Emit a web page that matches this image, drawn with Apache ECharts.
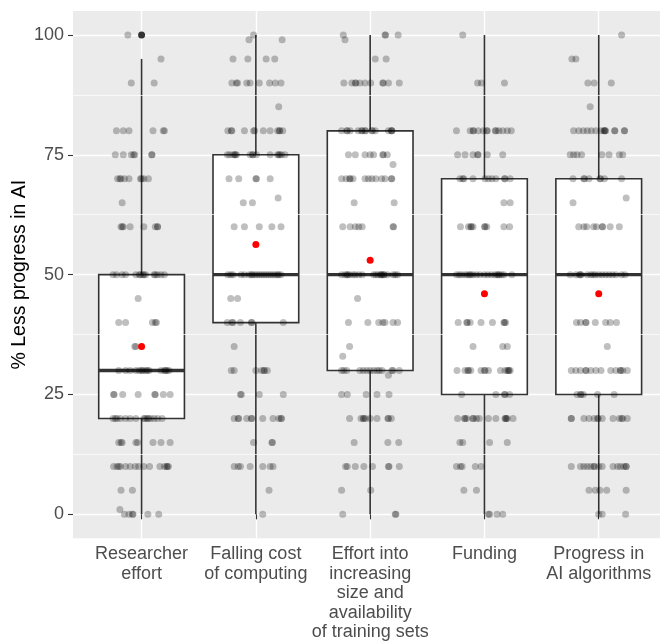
<!DOCTYPE html>
<html><head><meta charset="utf-8">
<script src="https://cdn.jsdelivr.net/npm/echarts@6/dist/echarts.min.js"></script>
<style>html,body{margin:0;padding:0;background:#fff}#c{width:660px;height:642px}</style>
</head><body><div id="c"></div><script>
const categories = ['Researcher\neffort', 'Falling cost\nof computing', 'Effort into\nincreasing\nsize and\navailability\nof training sets', 'Funding', 'Progress in\nAI algorithms'];
const whiskerLow = [0, 0, 0, 0, 0];
const boxQ1 = [20, 40, 30, 25, 25];
const boxMedian = [30, 50, 50, 50, 50];
const boxQ3 = [50, 75, 80, 70, 70];
const whiskerHigh = [95, 100, 100, 100, 100];
const meanValues = [35, 56.3, 53, 46, 46];
const outlierPoints = [[1, 100]];
const yTicks = [0, 25, 50, 75, 100];
const yMinorLines = [12.5, 37.5, 62.5, 87.5];
const yAxisTitle = '% Less progress in AI';

// jittered responses: [value, [horizontal offsets]]
const jitterResearcher = [
  [100, [-0.12]], [95, [0.17]], [90, [-0.09, 0.11]],
  [80, [-0.22, -0.16, -0.11, 0.10, 0.19, 0.20]],
  [75, [-0.23, -0.16, -0.09, -0.07, -0.06, 0.09, 0.09]],
  [70, [-0.21, -0.19, -0.18, -0.15, -0.11, -0.01, 0.0, 0.02, 0.06]],
  [65, [-0.17]],
  [60, [-0.18, -0.17, -0.16, -0.10, 0.02, 0.12, 0.14, 0.14]],
  [50, [-0.25, -0.22, -0.17, -0.14, -0.05, -0.02, -0.01, 0.01, 0.02, 0.035, 0.11, 0.12, 0.14, 0.17, 0.2]],
  [45, [-0.03]],
  [40, [-0.2, -0.14, 0.095, 0.12, 0.13]],
  [35, [-0.06, -0.05]],
  [30, [-0.2, -0.14, -0.1, -0.05, -0.02, 0.0, 0.01, 0.035, 0.05, 0.065, 0.17, 0.2, 0.21, 0.22, 0.24]],
  [25, [-0.245, -0.24, -0.165, -0.03, 0.115, 0.12, 0.19, 0.25]],
  [20, [-0.25, -0.23, -0.215, -0.185, -0.14, -0.1, -0.05, 0.02, 0.03, 0.05, 0.06, 0.08, 0.11, 0.14, 0.18]],
  [15, [-0.2, -0.18, -0.17, -0.05, -0.035, 0.1, 0.17, 0.25]],
  [10, [-0.245, -0.215, -0.2, -0.185, -0.14, -0.1, -0.055, -0.025, 0.02, 0.07, 0.16, 0.2, 0.22, 0.225, 0.235]],
  [5, [-0.18, -0.08]], [1, [-0.19]],
  [0, [-0.15, -0.11, -0.08, -0.075, 0.055, 0.15]]
];
const jitterComputing = [
  [100, [-0.02]], [99, [-0.06, 0.23]], [95, [-0.2, -0.07, 0.09, 0.165]],
  [90, [-0.21, -0.17, -0.16, -0.08, -0.05, 0.03, 0.12, 0.17, 0.22]],
  [85, [0.2]],
  [80, [-0.245, -0.215, -0.21, -0.1, -0.02, -0.01, 0.065, 0.125, 0.19, 0.205, 0.21, 0.235]],
  [75, [-0.25, -0.23, -0.2, -0.185, -0.18, -0.17, -0.05, -0.03, -0.025, 0.005, 0.125, 0.19, 0.2, 0.21, 0.225, 0.255]],
  [70, [-0.235, -0.15, 0.0, 0.005, 0.125]],
  [66, [0.195]], [65, [-0.11, -0.03]],
  [60, [-0.19, -0.1, 0.03, 0.14, 0.22]],
  [50, [-0.245, -0.22, -0.2, -0.13, -0.1, -0.06, -0.04, -0.03, -0.01, 0.01, 0.03, 0.05, 0.07, 0.09, 0.11, 0.13, 0.15, 0.17, 0.19, 0.2, 0.22]],
  [45, [-0.22, -0.16]],
  [40, [-0.25, -0.21, -0.2, -0.135, -0.04, -0.035, 0.24]],
  [35, [-0.19]],
  [30, [-0.215, -0.19, 0.0, 0.05, 0.07, 0.075, 0.1]],
  [25, [-0.135, -0.127, 0.03, 0.24]],
  [20, [-0.19, -0.155, -0.15, -0.08, -0.04, -0.035, 0.06, 0.15, 0.2, 0.22, 0.225]],
  [15, [-0.02, 0.14, 0.145]],
  [10, [-0.19, -0.155, -0.135, -0.05, 0.06, 0.125, 0.15]],
  [5, [0.115]], [0, [0.06]]
];
const jitterTrainingSets = [
  [100, [-0.235, 0.13, 0.135, 0.245]], [99, [-0.22]], [95, [0.045, 0.14]],
  [90, [-0.23, -0.16, -0.13, -0.125, -0.09, -0.045, 0.005, 0.11, 0.115, 0.16, 0.255]],
  [80, [-0.25, -0.205, -0.2, -0.175, -0.105, -0.075, -0.07, -0.045, -0.04, 0.015, 0.02, 0.045, 0.16, 0.185, 0.19, 0.19]],
  [75, [-0.19, -0.13, -0.045, 0.0, 0.03, 0.11, 0.115, 0.15]],
  [73, [0.2]],
  [70, [-0.25, -0.21, -0.18, -0.175, -0.15, -0.045, -0.015, 0.015, 0.05, 0.1, 0.13, 0.185, 0.19]],
  [65, [-0.14, 0.21]],
  [60, [-0.24, -0.175, -0.13, -0.1, -0.07, 0.2, 0.205]],
  [50, [-0.25, -0.22, -0.2, -0.2, -0.18, -0.15, -0.13, -0.1, -0.07, 0.03, 0.05, 0.07, 0.09, 0.1, 0.1, 0.12, 0.12, 0.15, 0.2, 0.22, 0.24]],
  [45, [-0.11]],
  [40, [-0.19, -0.02, 0.075, 0.11, 0.13, 0.2, 0.24]],
  [35, [-0.18]], [33, [-0.24]],
  [30, [-0.25, -0.23, -0.205, -0.09, -0.06, -0.03, 0.0, 0.03, 0.06, 0.08, 0.105, 0.19, 0.2, 0.255]],
  [29, [0.16]],
  [25, [-0.25, -0.2, -0.035, 0.06, 0.165]],
  [20, [-0.18, -0.08, -0.06, -0.055, -0.04, 0.0, 0.06, 0.155, 0.16, 0.185]],
  [15, [-0.14, 0.155, 0.25]],
  [10, [-0.215, -0.2, -0.13, -0.055, 0.02, 0.16, 0.165, 0.255]],
  [5, [-0.25, 0.005]],
  [0, [-0.24, 0.22, 0.225]]
];
const jitterFunding = [
  [100, [-0.19]], [90, [-0.06, -0.025, 0.175]],
  [80, [-0.245, -0.125, -0.1, -0.095, -0.055, -0.01, 0.02, 0.025, 0.095, 0.1, 0.125, 0.16, 0.2, 0.235]],
  [75, [-0.235, -0.17, -0.1, -0.06, -0.055, 0.025, 0.16]],
  [70, [-0.215, -0.19, -0.18, -0.1, 0.005, 0.035, 0.065, 0.1, 0.175, 0.18, 0.225]],
  [65, [0.17, 0.225]],
  [60, [-0.21, -0.14, -0.12, -0.115, -0.1, 0.0, 0.005, 0.02, 0.17, 0.22]],
  [50, [-0.245, -0.22, -0.2, -0.17, -0.15, -0.13, -0.12, -0.1, -0.07, -0.04, 0.0, 0.03, 0.06, 0.09, 0.11, 0.12, 0.13, 0.15, 0.17, 0.24]],
  [40, [-0.23, -0.155, -0.15, -0.125, -0.03, 0.07, 0.17, 0.175, 0.185]],
  [35, [-0.1, 0.16, 0.2]],
  [30, [-0.24, -0.17, -0.145, -0.14, -0.12, -0.03, 0.0, 0.005, 0.035, 0.14, 0.18, 0.2, 0.21, 0.215, 0.225]],
  [25, [-0.2, 0.1, 0.175, 0.18, 0.22]],
  [20, [-0.235, -0.175, -0.17, -0.155, -0.1, -0.1, -0.07, -0.045, 0.035, 0.1, 0.18, 0.185, 0.19, 0.2, 0.25]],
  [15, [-0.215, -0.19, 0.045, 0.2]],
  [10, [-0.245, -0.21, -0.195, -0.08, -0.03]],
  [5, [-0.18, -0.07]],
  [0, [0.035, 0.045, 0.11, 0.16]]
];
const jitterAlgorithms = [
  [100, [0.2]], [95, [-0.235, -0.2]], [90, [-0.095, -0.04, 0.11]], [85, [-0.075]],
  [80, [-0.22, -0.175, -0.135, -0.1, -0.065, -0.025, 0.02, 0.045, 0.05, 0.055, 0.06, 0.14, 0.14, 0.225, 0.225]],
  [75, [-0.25, -0.22, -0.19, -0.15, 0.027, 0.09, 0.18, 0.21]],
  [70, [-0.225, -0.13, -0.125, -0.085, 0.01, 0.015, 0.05, 0.2]],
  [66, [0.24]], [65, [-0.225]],
  [60, [-0.175, -0.13, -0.105, -0.045, -0.02, 0.03, 0.035, 0.1, 0.18]],
  [50, [-0.25, -0.2, -0.17, -0.16, -0.155, -0.1, -0.07, -0.05, -0.03, 0.0, 0.03, 0.06, 0.09, 0.12, 0.15, 0.2, 0.23]],
  [40, [-0.195, -0.16, -0.115, -0.11, -0.03, 0.06, 0.1, 0.155]],
  [35, [0.075]],
  [30, [-0.24, -0.2, -0.16, -0.115, -0.11, -0.07, -0.025, 0.02, 0.105, 0.15, 0.19, 0.19, 0.21, 0.25]],
  [25, [-0.19, -0.16, -0.155, -0.135, -0.01, 0.135]],
  [20, [-0.24, -0.24, -0.13, -0.085, -0.04, -0.01, -0.005, 0.03, 0.125, 0.18, 0.2, 0.21, 0.25]],
  [10, [-0.24, -0.16, -0.13, -0.1, -0.07, -0.04, -0.04, 0.0, 0.03, 0.125, 0.165, 0.19, 0.22, 0.24, 0.24]],
  [5, [-0.085, -0.03, 0.01, 0.07, 0.24]],
  [0, [0.0, 0.03, 0.235]]
];
const jitterGroups = [jitterResearcher, jitterComputing, jitterTrainingSets, jitterFunding, jitterAlgorithms];

const jitterData = [];
jitterGroups.forEach((rows, ci) => {
  rows.forEach(([v, offs]) => offs.forEach(o => jitterData.push([ci + 1 + o, v])));
});
const boxData = categories.map((c, i) => [i + 1, whiskerLow[i], boxQ1[i], boxMedian[i], boxQ3[i], whiskerHigh[i]]);
const meanData = meanValues.map((m, i) => [i + 1, m]);
const catPositions = categories.map((c, i) => i + 1);

const FONT = 'Liberation Sans, Arial, Helvetica, sans-serif';
const BOX_HALF = 0.375;

function renderBox(params, api) {
  const x = api.value(0);
  const lo = api.coord([x, api.value(1)]);
  const q1 = api.coord([x, api.value(2)]);
  const med = api.coord([x, api.value(3)]);
  const q3 = api.coord([x, api.value(4)]);
  const hi = api.coord([x, api.value(5)]);
  const left = api.coord([x - BOX_HALF, 0])[0];
  const right = api.coord([x + BOX_HALF, 0])[0];
  const st = { stroke: '#333333', lineWidth: 1.6, fill: null };
  return {
    type: 'group',
    children: [
      { type: 'line', shape: { x1: hi[0], y1: hi[1], x2: q3[0], y2: q3[1] }, style: st },
      { type: 'line', shape: { x1: q1[0], y1: q1[1], x2: lo[0], y2: lo[1] }, style: st },
      { type: 'rect', shape: { x: left, y: q3[1], width: right - left, height: q1[1] - q3[1] },
        style: { fill: '#ffffff', stroke: '#333333', lineWidth: 1.6 } },
      { type: 'line', shape: { x1: left, y1: med[1], x2: right, y2: med[1] },
        style: { stroke: '#333333', lineWidth: 3.4 } }
    ]
  };
}

const chart = echarts.init(document.getElementById('c'), null, { renderer: 'canvas' });
chart.setOption({
  animation: false,
  backgroundColor: '#ffffff',
  grid: { left: 73, right: 0, top: 11, bottom: 103.7, show: true, backgroundColor: '#EBEBEB', borderWidth: 0,
          containLabel: false, outerBoundsMode: 'none' },
  xAxis: {
    type: 'value', min: 0.4, max: 5.536,
    axisLine: { show: false },
    axisTick: { show: true, customValues: catPositions, length: 5, lineStyle: { color: '#333333', width: 1.1 } },
    axisLabel: {
      customValues: catPositions,
      formatter: v => categories[Math.round(v) - 1],
      color: '#4D4D4D', fontSize: 18, lineHeight: 19.5, margin: 6, fontFamily: FONT, align: 'center'
    },
    splitLine: { show: true, lineStyle: { color: '#ffffff', width: 1.4 } }
  },
  yAxis: {
    type: 'value', min: -5, max: 105,
    name: yAxisTitle, nameLocation: 'middle', nameGap: 43.5, nameMoveOverlap: false,
    nameTextStyle: { color: '#000000', fontSize: 19.5, fontFamily: FONT },
    axisLine: { show: false },
    axisTick: { show: true, customValues: yTicks, length: 5, lineStyle: { color: '#333333', width: 1.1 } },
    axisLabel: { customValues: yTicks, color: '#4D4D4D', fontSize: 18, margin: 9, fontFamily: FONT },
    splitLine: { show: true, lineStyle: { color: '#ffffff', width: 1.4 } }
  },
  series: [
    {
      type: 'line', data: [], z: 1, silent: true,
      markLine: {
        silent: true, symbol: ['none', 'none'], label: { show: false },
        lineStyle: { color: '#ffffff', width: 0.7, type: 'solid' },
        data: yMinorLines.map(v => ({ yAxis: v }))
      }
    },
    {
      type: 'custom', renderItem: renderBox, data: boxData, z: 2, silent: true,
      encode: { x: 0, y: [1, 2, 3, 4, 5] }
    },
    {
      type: 'scatter', data: outlierPoints, z: 3, symbolSize: 7, silent: true,
      itemStyle: { color: '#333333', opacity: 1 }
    },
    {
      type: 'scatter', data: jitterData, z: 4, symbolSize: 7, silent: true,
      itemStyle: { color: '#000000', opacity: 0.25 }
    },
    {
      type: 'scatter', data: meanData, z: 5, symbolSize: 7, silent: true,
      itemStyle: { color: '#FF0000', opacity: 1 }
    }
  ]
});
</script></body></html>
